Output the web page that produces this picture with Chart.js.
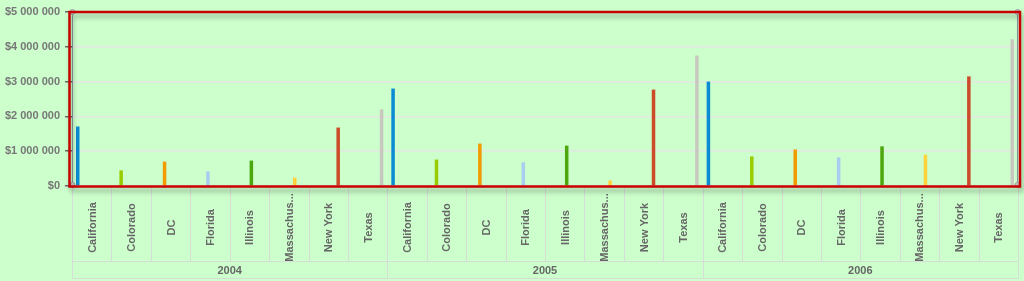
<!DOCTYPE html>
<html>
<head>
<meta charset="utf-8">
<script src="https://cdn.jsdelivr.net/npm/chart.js@4"></script>
<style>
  html, body { margin: 0; padding: 0; background: #ccffcc; }
  #wrap { width: 1024px; height: 281px; position: relative; }
</style>
</head>
<body>
<div id="wrap"><canvas id="salesChart"></canvas></div>
<script>
// categories
const years = ['2004', '2005', '2006'];
const states = ['California', 'Colorado', 'DC', 'Florida', 'Illinois', 'Massachusetts', 'New York', 'Texas'];

// values per state, one per year
const california    = [1710000, 2800000, 3000000];
const colorado      = [450000, 760000, 850000];
const dc            = [700000, 1220000, 1050000];
const florida       = [420000, 680000, 820000];
const illinois      = [730000, 1160000, 1140000];
const massachusetts = [240000, 160000, 900000];
const newYork       = [1680000, 2770000, 3150000];
const texas         = [2200000, 3750000, 4220000];

const yTicks = [0, 1000000, 2000000, 3000000, 4000000, 5000000];

const seriesValues = [california, colorado, dc, florida, illinois, massachusetts, newYork, texas];
const seriesColors = ['#0a8bd2', '#99cc00', '#f29b00', '#a8cdee', '#4da60c', '#ffd23c', '#cc4c2a', '#c8c8c0'];

const labels = [];
years.forEach(y => states.forEach(s => labels.push(s)));

const datasets = states.map((s, i) => {
    const data = labels.map(() => null);
    years.forEach((y, yi) => { data[yi * states.length + i] = seriesValues[i][yi]; });
    return {
        label: s,
        data: data,
        backgroundColor: seriesColors[i],
        barPercentage: 0.88,
        categoryPercentage: 0.81
    };
});

function money(v) {
    return '$' + String(v).replace(/\B(?=(\d{3})+(?!\d))/g, ' ');
}

function fitText(ctx, text, maxW) {
    if (ctx.measureText(text).width <= maxW) return text;
    let t = text;
    while (t.length > 1 && ctx.measureText(t + '...').width > maxW) t = t.slice(0, -1);
    return t + '...';
}

// frame, category band and year row
const framePlugin = {
    id: 'frame',
    afterDraw(chart) {
        const ctx = chart.ctx;
        const ca = chart.chartArea;
        const x = chart.scales.x;
        const n = labels.length;
        const step = (ca.right - ca.left) / n;
        const bandTop = ca.bottom + 1.5;
        const bandBottom = 261.5;
        const yearBottom = 278.5;

        ctx.save();
        // cell lines
        ctx.strokeStyle = '#d6dcd6';
        ctx.lineWidth = 1;
        ctx.beginPath();
        for (let i = 0; i <= n; i++) {
            const px = Math.round(ca.left + i * step) + 0.5;
            ctx.moveTo(px, bandTop);
            ctx.lineTo(px, bandBottom);
        }
        ctx.moveTo(ca.left, bandBottom);
        ctx.lineTo(ca.right, bandBottom);
        for (let g = 0; g <= years.length; g++) {
            const px = Math.round(ca.left + g * states.length * step) + 0.5;
            ctx.moveTo(px, bandBottom);
            ctx.lineTo(px, yearBottom);
        }
        ctx.moveTo(ca.left, yearBottom);
        ctx.lineTo(ca.right, yearBottom);
        ctx.stroke();

        // rotated category labels
        ctx.font = 'bold 11px "Liberation Sans", Arial, sans-serif';
        ctx.fillStyle = '#666666';
        ctx.textAlign = 'center';
        ctx.textBaseline = 'middle';
        labels.forEach((lab, i) => {
            const px = x.getPixelForValue(i);
            const t = fitText(ctx, lab, 70);
            ctx.save();
            ctx.translate(px + 1, (bandTop + bandBottom) / 2 + 3);
            ctx.rotate(-Math.PI / 2);
            ctx.fillText(t, 0, 0);
            ctx.restore();
        });

        // year labels
        years.forEach((y, g) => {
            const a = ca.left + g * states.length * step;
            const b = a + states.length * step;
            ctx.fillText(y, (a + b) / 2, (bandBottom + yearBottom) / 2 + 0.5);
        });

        // side lines and handles
        ctx.strokeStyle = '#8a9aa0';
        ctx.lineWidth = 1;
        ctx.beginPath();
        ctx.moveTo(ca.left + 0.5, ca.top);
        ctx.lineTo(ca.left + 0.5, ca.bottom);
        ctx.moveTo(ca.right - 0.5, ca.top);
        ctx.lineTo(ca.right - 0.5, ca.bottom);
        ctx.stroke();
        ctx.fillStyle = '#c8cac8';
        ctx.strokeStyle = '#a0a0a0';
        [[ca.left + 0.5, ca.top], [ca.left + 0.5, ca.bottom - 1], [ca.right - 0.5, ca.top], [ca.right - 0.5, ca.bottom - 1]].forEach(p => {
            ctx.beginPath();
            ctx.arc(p[0], p[1], 2.5, 0, Math.PI * 2);
            ctx.fill();
            ctx.stroke();
        });

        // red frame with soft shadow
        ctx.shadowColor = 'rgba(0,0,0,0.35)';
        ctx.shadowBlur = 5;
        ctx.shadowOffsetX = 2;
        ctx.shadowOffsetY = 4;
        ctx.strokeStyle = '#c80000';
        ctx.lineWidth = 2.5;
        ctx.strokeRect(ca.left - 2.5, ca.top, ca.right - ca.left + 4.5, ca.bottom - ca.top + 0.5);
        ctx.restore();
    }
};

new Chart(document.getElementById('salesChart'), {
    type: 'bar',
    data: { labels: labels, datasets: datasets },
    options: {
        responsive: true,
        maintainAspectRatio: false,
        animation: false,
        layout: { padding: { top: 12, right: 6, bottom: 95, left: 0 } },
        plugins: {
            legend: { display: false },
            tooltip: { enabled: false }
        },
        scales: {
            x: {
                display: false,
                grid: { display: false }
            },
            y: {
                min: 0,
                max: 5000000,
                afterFit(scale) { scale.width = 72; },
                afterBuildTicks(scale) { scale.ticks = yTicks.map(v => ({ value: v })); },
                border: { display: false },
                grid: {
                    color: '#e4e8e4',
                    lineWidth: 1.5,
                    tickColor: '#666666',
                    tickLength: 7
                },
                ticks: {
                    padding: 5,
                    color: '#777777',
                    font: { family: '"Liberation Sans", Arial, sans-serif', size: 11, weight: 'bold' },
                    callback: v => money(v)
                }
            }
        }
    },
    plugins: [framePlugin]
});
</script>
</body>
</html>
